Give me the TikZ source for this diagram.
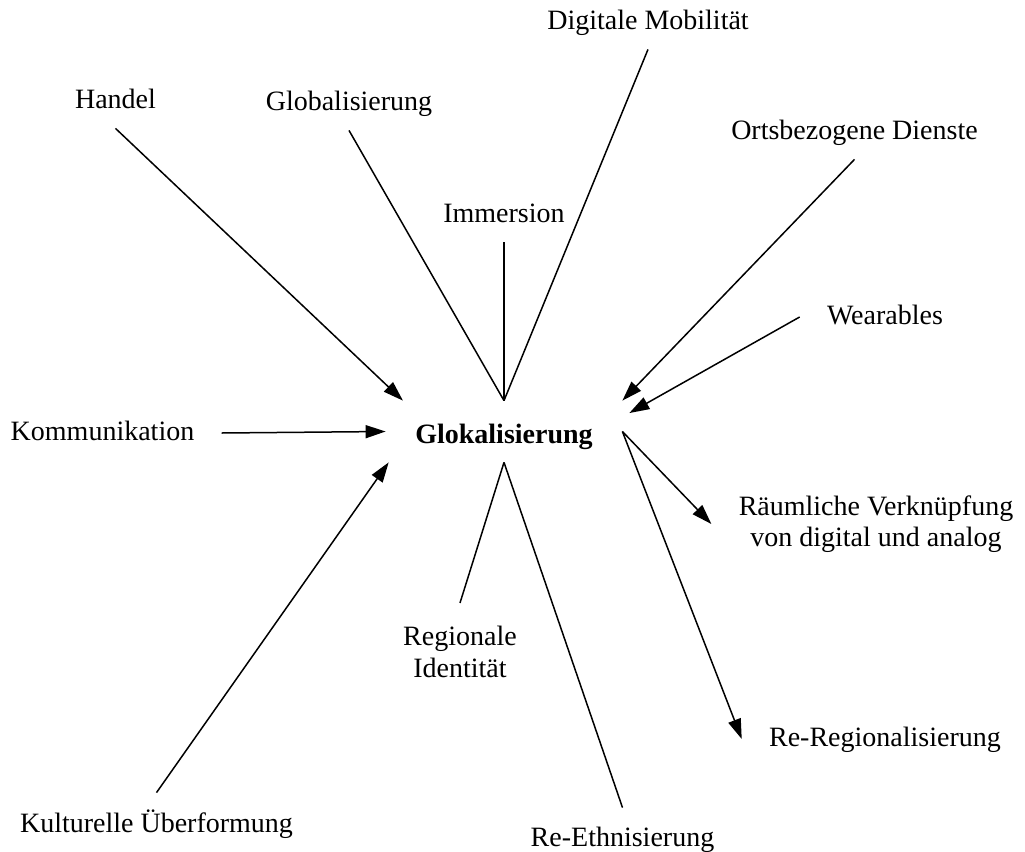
\documentclass[tikz,border=0pt]{standalone}
\usepackage{fontspec}
\setmainfont{Liberation Serif}
\usetikzlibrary{arrows.meta}

\begin{document}
\begin{tikzpicture}[
  x=0.5pt,y=-0.5pt,
  concept/.style={inner xsep=13.5pt,inner ysep=7pt,text height=10pt,text depth=3pt,font=\fontsize{14}{15.8}\selectfont},
  concepttwo/.style={inner xsep=13.5pt,inner ysep=7pt,align=center,font=\fontsize{14}{15.8}\selectfont},
  hub/.style={minimum width=118pt,minimum height=30.5pt,inner sep=0pt,text height=12pt,text depth=0pt,font=\fontsize{14}{15.8}\selectfont\bfseries},
  link/.style={draw,line width=0.75pt},
  flow/.style={link,-{Triangle[length=10pt,width=6.5pt]}},
]
  \useasboundingbox (0,0) rectangle (1025,852);

  % Centre
  \node[hub] (glok) at (504,431.5) {Glokalisierung};

  % Upper labels
  \node[concept] (handel) at (115.5,101) {Handel};
  \node[concept] (global) at (349,103) {Globalisierung};
  \node[concept] (immersion) at (504,215) {Immersion};
  \node[concept] (digmob) at (648,22) {Digitale Mobilität};
  \node[concept] (ortsdienst) at (854.5,132) {Ortsbezogene Dienste};
  \node[concept] (wearables) at (885,317) {Wearables};

  % Left labels
  \node[concept] (komm) at (102.5,433) {Kommunikation};
  \node[concept,inner ysep=9.5pt] (kultur) at (156.5,825) {Kulturelle Überformung};

  % Lower labels
  \node[concepttwo,inner ysep=11.5pt] (regid) at (460,652) {Regionale\\Identität};
  \node[concept,inner ysep=9pt] (reeth) at (622.5,839) {Re-Ethnisierung};

  % Right labels
  \node[concepttwo] (raum) at (876,524) {Räumliche Verknüpfung\\von digital und analog};
  \node[concept] (rereg) at (885,739) {Re-Regionalisierung};

  % Edges: incoming
  \path (handel.south) edge[flow] (glok.163);
  \path (ortsdienst.south) edge[flow] (glok.north east);
  \path (wearables.west) edge[flow,shorten >=4pt] (glok.7.5);
  \path (komm.east) edge[flow] (glok.west);
  \path (kultur.north) edge[flow] (glok.195.9);

  % Edges: plain
  \path (global.south) edge[link] (glok.north);
  \path (immersion.south) edge[link] (glok.north);
  \path (digmob.south) edge[link] (glok.north);
  \path (regid.north) edge[link] (glok.south);
  \path (reeth.north) edge[link] (glok.south);

  % Edges: outgoing
  \path (glok.east) edge[flow] (raum.west);
  \path (glok.east) edge[flow] (rereg.west);
\end{tikzpicture}
\end{document}
